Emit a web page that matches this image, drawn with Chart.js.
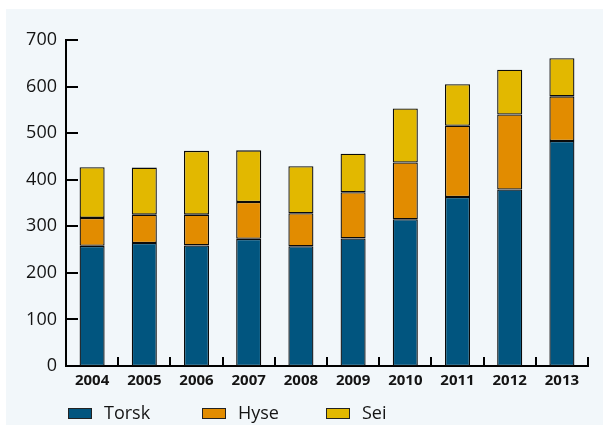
<!DOCTYPE html>
<html>
<head>
<meta charset="utf-8">
<script src="https://cdn.jsdelivr.net/npm/chart.js@4/dist/chart.umd.min.js"></script>
<style>
  html, body { margin: 0; padding: 0; background: #fff; }
  #wrap { position: relative; width: 603px; height: 425px; }
  #panel { position: absolute; left: 6px; top: 9px; right: 0; bottom: 0; background: #f2f7fa; }
  #chart { position: absolute; left: 0; top: 0; }
</style>
</head>
<body>
<div id="wrap">
  <div id="panel"></div>
  <canvas id="chart" width="603" height="425"></canvas>
</div>
<script>
  const years = ["2004", "2005", "2006", "2007", "2008", "2009", "2010", "2011", "2012", "2013"];
  const torsk = [258, 264, 259, 273, 257, 274, 315, 363, 379, 483];
  const hyse = [60, 61, 66, 79, 71, 99, 122, 153, 161, 96];
  const sei = [109, 101, 137, 111, 101, 83, 116, 89, 96, 82];
  const yTicks = [0, 100, 200, 300, 400, 500, 600, 700];

  const FONT = "'Open Sans', 'DejaVu Sans', sans-serif";
  const legendX = [68, 202, 326];

  // ticks drawn pointing into the plot, like the original
  const innerTicks = {
    id: "innerTicks",
    afterDraw(chart) {
      const { ctx, chartArea, scales } = chart;
      ctx.save();
      ctx.strokeStyle = "#000";
      ctx.lineWidth = 2;
      ctx.beginPath();
      for (let i = 1; i <= years.length; i++) {
        const x = Math.round(scales.x.getPixelForValue(i - 0.5));
        ctx.moveTo(x, chartArea.bottom);
        ctx.lineTo(x, chartArea.bottom - 9);
      }
      for (const v of yTicks) {
        const y = Math.round(scales.y.getPixelForValue(v));
        ctx.moveTo(chartArea.left, y);
        ctx.lineTo(chartArea.left + 12, y);
      }
      ctx.stroke();
      ctx.restore();
    }
  };

  // legend in fixed columns under the axis
  const columnLegend = {
    id: "columnLegend",
    afterDraw(chart) {
      const { ctx } = chart;
      ctx.save();
      ctx.font = "18px " + FONT;
      ctx.textBaseline = "alphabetic";
      chart.data.datasets.forEach((ds, i) => {
        const x = legendX[i];
        ctx.fillStyle = ds.backgroundColor;
        ctx.fillRect(x, 408, 24, 11);
        ctx.strokeStyle = "#222";
        ctx.lineWidth = 1;
        ctx.strokeRect(x + 0.5, 408.5, 23, 10);
        ctx.fillStyle = "#141414";
        ctx.fillText(ds.label, x + 36, 419);
      });
      ctx.restore();
    }
  };

  function dataset(label, data, color) {
    return {
      label,
      data,
      backgroundColor: color,
      borderColor: "#0a0a0a",
      borderWidth: 1.3,
      borderSkipped: false,
      categoryPercentage: 1,
      barPercentage: 0.48
    };
  }

  new Chart(document.getElementById("chart"), {
    type: "bar",
    data: {
      labels: years,
      datasets: [
        dataset("Torsk", torsk, "#01557f"),
        dataset("Hyse", hyse, "#e28c00"),
        dataset("Sei", sei, "#e2b800")
      ]
    },
    options: {
      responsive: false,
      animation: false,
      devicePixelRatio: 1,
      layout: { padding: { top: 40, right: 15, left: 0, bottom: 0 } },
      plugins: {
        tooltip: { enabled: false },
        legend: { display: false }
      },
      scales: {
        x: {
          stacked: true,
          offset: true,
          grid: { display: false, drawTicks: false, tickLength: 0 },
          border: { display: true, color: "#000", width: 2 },
          afterFit(scale) {
            scale.height = 59;
          },
          ticks: {
            color: "#141414",
            padding: 6,
            maxRotation: 0,
            font: { family: FONT, size: 15, weight: "bold" }
          }
        },
        y: {
          stacked: true,
          min: 0,
          max: 700,
          grid: { display: false, drawTicks: false, tickLength: 0 },
          border: { display: true, color: "#000", width: 2 },
          afterBuildTicks(scale) {
            scale.ticks = yTicks.map(v => ({ value: v }));
          },
          afterFit(scale) {
            scale.width = 66;
          },
          ticks: {
            color: "#141414",
            padding: 9,
            font: { family: FONT, size: 18 }
          }
        }
      }
    },
    plugins: [innerTicks, columnLegend]
  });
</script>
</body>
</html>
